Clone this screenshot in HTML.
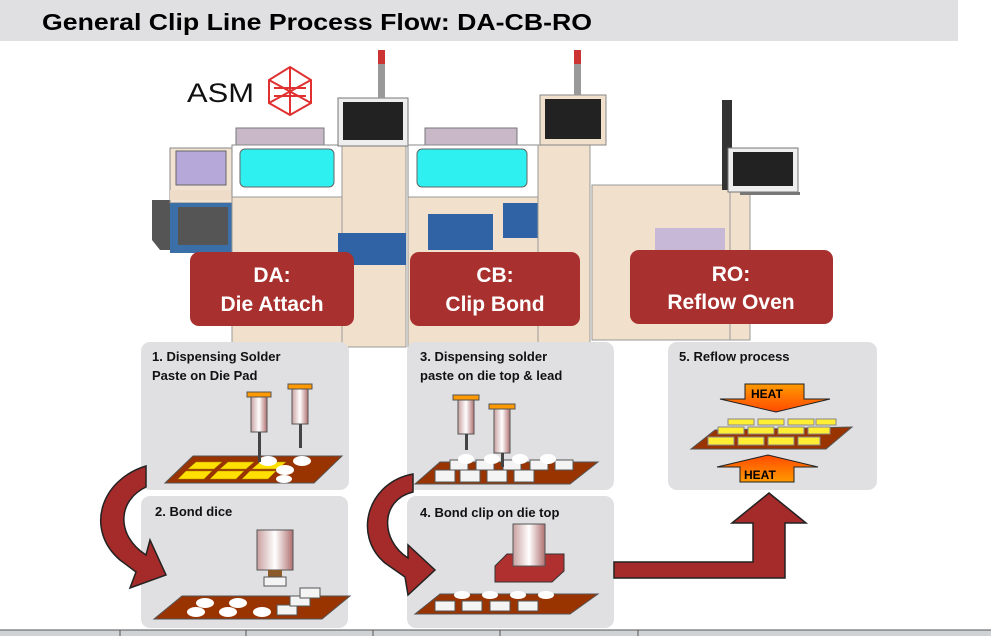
<!DOCTYPE html>
<html><head><meta charset="utf-8"><style>
html,body{margin:0;padding:0;background:#fff;width:991px;height:636px;overflow:hidden}
svg{display:block;font-family:"Liberation Sans",sans-serif}
</style></head><body>
<svg width="991" height="636" viewBox="0 0 991 636" xmlns="http://www.w3.org/2000/svg">
<defs>
<linearGradient id="syr" x1="0" x2="1"><stop offset="0" stop-color="#c9a0a0"/><stop offset=".5" stop-color="#fff"/><stop offset="1" stop-color="#b07070"/></linearGradient>
<linearGradient id="heat" x1="0" y1="0" x2="0" y2="1"><stop offset="0" stop-color="#ff9a00"/><stop offset="1" stop-color="#ff4a00"/></linearGradient>
<linearGradient id="heat2" x1="0" y1="1" x2="0" y2="0"><stop offset="0" stop-color="#ff9a00"/><stop offset="1" stop-color="#ff4a00"/></linearGradient>
</defs>
<rect x="0" y="0" width="958" height="41" fill="#e0e0e2"/>
<text x="42" y="30" font-size="23" font-weight="bold" textLength="550" lengthAdjust="spacingAndGlyphs">General Clip Line Process Flow: DA-CB-RO</text>

<text x="187" y="102" font-size="27" fill="#111" textLength="67" lengthAdjust="spacingAndGlyphs">ASM</text>
<g fill="none" stroke="#e03030" stroke-width="2">
<polygon points="290,67 311,80 311,103 290,115 269,103 269,80"/>
<path d="M269,80 L311,103 M311,80 L269,103 M290,67 L290,115 M274,88 L306,88 M274,96 L306,96"/>
</g>

<!-- DA -->
<polygon points="152,200 170,200 170,250 160,250 152,240" fill="#555"/>
<rect x="170" y="148" width="62" height="55" fill="#f1e2d2" stroke="#888"/>
<rect x="176" y="151" width="50" height="34" fill="#b6a8d8" stroke="#666"/>
<rect x="170" y="190" width="62" height="10" fill="#efdcc8"/>
<rect x="170" y="203" width="62" height="50" fill="#3a6fa8"/>
<rect x="178" y="207" width="50" height="38" fill="#555"/>
<rect x="236" y="128" width="88" height="20" fill="#c8b8c8" stroke="#777"/>
<rect x="232" y="145" width="110" height="52" fill="#fff" stroke="#888"/>
<rect x="240" y="149" width="94" height="38" rx="5" fill="#2ff0f0" stroke="#666"/>
<rect x="232" y="197" width="110" height="150" fill="#f1e0cc" stroke="#999"/>
<rect x="342" y="146" width="64" height="201" fill="#f1e0cc" stroke="#999"/>
<rect x="338" y="98" width="70" height="48" fill="#eee" stroke="#777"/>
<rect x="343" y="102" width="60" height="38" fill="#222"/>
<rect x="378" y="50" width="7" height="48" fill="#999"/>
<rect x="378" y="50" width="7" height="14" fill="#c33"/>
<rect x="338" y="233" width="68" height="32" fill="#2f63a6"/>
<!-- CB -->
<rect x="425" y="128" width="92" height="20" fill="#c8b8c8" stroke="#777"/>
<rect x="408" y="145" width="130" height="52" fill="#fff" stroke="#888"/>
<rect x="417" y="149" width="110" height="38" rx="5" fill="#2ff0f0" stroke="#666"/>
<rect x="408" y="197" width="130" height="150" fill="#f1e0cc" stroke="#999"/>
<rect x="428" y="214" width="65" height="36" fill="#2f63a6"/>
<rect x="503" y="203" width="75" height="35" fill="#2f63a6"/>
<rect x="538" y="145" width="52" height="200" fill="#f1e0cc" stroke="#999"/>
<rect x="540" y="95" width="66" height="50" fill="#f1e0cc" stroke="#888"/>
<rect x="545" y="99" width="56" height="40" fill="#222"/>
<rect x="574" y="50" width="7" height="45" fill="#999"/>
<rect x="574" y="50" width="7" height="14" fill="#c33"/>
<!-- RO -->
<rect x="592" y="185" width="140" height="155" fill="#f1e0cc" stroke="#999"/>
<rect x="730" y="190" width="20" height="150" fill="#f1e0cc" stroke="#999"/>
<rect x="655" y="228" width="70" height="25" fill="#c8b8d8"/>
<rect x="722" y="100" width="10" height="90" fill="#333"/>
<rect x="728" y="148" width="70" height="44" fill="#eee" stroke="#777"/>
<rect x="733" y="152" width="60" height="34" fill="#222"/>
<rect x="740" y="192" width="60" height="3" fill="#777"/>

<g fill="#a8302e">
<rect x="190" y="252" width="164" height="74" rx="9"/>
<rect x="410" y="252" width="170" height="74" rx="9"/>
<rect x="630" y="250" width="203" height="74" rx="9"/>
</g>
<g fill="#fff" font-size="21" font-weight="bold" text-anchor="middle">
<text x="272" y="282">DA:</text><text x="272" y="311">Die Attach</text>
<text x="495" y="282">CB:</text><text x="495" y="311">Clip Bond</text>
<text x="731" y="281">RO:</text><text x="731" y="309">Reflow Oven</text>
</g>

<g fill="#e0e0e2">
<rect x="141" y="342" width="208" height="148" rx="9"/>
<rect x="141" y="496" width="207" height="132" rx="9"/>
<rect x="407" y="342" width="207" height="148" rx="9"/>
<rect x="407" y="496" width="207" height="132" rx="9"/>
<rect x="668" y="342" width="209" height="148" rx="9"/>
</g>
<g font-size="13" font-weight="bold" fill="#111">
<text x="152" y="361">1. Dispensing Solder</text>
<text x="152" y="380">Paste on Die Pad</text>
<text x="155" y="516">2. Bond dice</text>
<text x="420" y="361">3. Dispensing solder</text>
<text x="420" y="380">paste on die top &amp;  lead</text>
<text x="420" y="517">4. Bond clip on die top</text>
<text x="679" y="361">5. Reflow process</text>
</g>

<polygon points="165,483 193,456 342,456 314,483" fill="#993300" stroke="#555"/>
<g fill="#ffe000" stroke="#aa8800" stroke-width=".5">
<polygon points="178,479 186,471 212,471 204,479"/><polygon points="210,479 218,471 244,471 236,479"/><polygon points="242,479 250,471 276,471 268,479"/>
<polygon points="188,469 196,462 222,462 214,469"/><polygon points="220,469 228,462 254,462 246,469"/><polygon points="252,469 260,462 286,462 278,469"/>
</g>
<g fill="#fff"><ellipse cx="268" cy="461" rx="9" ry="5"/><ellipse cx="285" cy="470" rx="9" ry="5"/><ellipse cx="302" cy="461" rx="9" ry="5"/><ellipse cx="284" cy="479" rx="8" ry="4"/></g>
<rect x="251" y="396" width="16" height="36" fill="url(#syr)" stroke="#555"/><rect x="247" y="392" width="24" height="5" fill="#ff9900" stroke="#555"/><rect x="258" y="432" width="3" height="30" fill="#444"/>
<rect x="292" y="388" width="16" height="36" fill="url(#syr)" stroke="#555"/><rect x="288" y="384" width="24" height="5" fill="#ff9900" stroke="#555"/><rect x="299" y="424" width="3" height="24" fill="#444"/>

<polygon points="154,619 182,596 350,596 322,619" fill="#993300" stroke="#555"/>
<g fill="#fff"><ellipse cx="205" cy="603" rx="9" ry="5"/><ellipse cx="238" cy="603" rx="9" ry="5"/><ellipse cx="196" cy="612" rx="9" ry="5"/><ellipse cx="228" cy="612" rx="9" ry="5"/><ellipse cx="262" cy="612" rx="9" ry="5"/></g>
<g fill="#f4f4f4" stroke="#555"><rect x="277" y="605" width="20" height="10"/><rect x="290" y="596" width="20" height="10"/><rect x="300" y="588" width="20" height="10"/></g>
<rect x="257" y="530" width="36" height="40" fill="url(#syr)" stroke="#555"/><rect x="268" y="570" width="14" height="8" fill="#8b5a2b"/><rect x="264" y="577" width="22" height="9" fill="#f4f4f4" stroke="#555"/>

<polygon points="415,484 440,462 598,462 570,484" fill="#993300" stroke="#555"/>
<g fill="#f4f4f4" stroke="#555">
<rect x="435" y="470" width="20" height="12"/><rect x="460" y="470" width="20" height="12"/><rect x="487" y="470" width="20" height="12"/><rect x="514" y="470" width="20" height="12"/>
<rect x="450" y="460" width="18" height="10"/><rect x="476" y="460" width="18" height="10"/><rect x="503" y="460" width="18" height="10"/><rect x="530" y="460" width="18" height="10"/><rect x="555" y="460" width="18" height="10"/>
</g>
<g fill="#fff"><ellipse cx="466" cy="459" rx="8" ry="5"/><ellipse cx="492" cy="459" rx="8" ry="5"/><ellipse cx="520" cy="459" rx="8" ry="5"/><ellipse cx="548" cy="459" rx="8" ry="5"/></g>
<rect x="458" y="399" width="16" height="35" fill="url(#syr)" stroke="#555"/><rect x="453" y="395" width="26" height="5" fill="#ff9900" stroke="#555"/><rect x="465" y="434" width="3" height="16" fill="#444"/>
<rect x="494" y="409" width="16" height="44" fill="url(#syr)" stroke="#555"/><rect x="489" y="404" width="26" height="5" fill="#ff9900" stroke="#555"/><rect x="501" y="453" width="3" height="14" fill="#444"/>

<polygon points="415,614 440,594 598,594 570,614" fill="#993300" stroke="#555"/>
<g fill="#f4f4f4" stroke="#555"><rect x="435" y="601" width="20" height="10"/><rect x="462" y="601" width="20" height="10"/><rect x="490" y="601" width="20" height="10"/><rect x="518" y="601" width="20" height="10"/></g>
<g fill="#fff"><ellipse cx="462" cy="595" rx="8" ry="4"/><ellipse cx="490" cy="595" rx="8" ry="4"/><ellipse cx="518" cy="595" rx="8" ry="4"/><ellipse cx="546" cy="595" rx="8" ry="4"/></g>
<polygon points="495,566 507,554 564,554 564,571 552,582 495,582" fill="#b03030" stroke="#333"/>
<rect x="513" y="524" width="32" height="42" fill="url(#syr)" stroke="#555"/>

<polygon points="691,449 715,430 852,427 826,449" fill="#993300" stroke="#555"/>
<g fill="#ffee33" stroke="#888">
<rect x="708" y="437" width="26" height="8"/><rect x="738" y="437" width="26" height="8"/><rect x="768" y="437" width="26" height="8"/><rect x="798" y="437" width="22" height="8"/>
<rect x="718" y="427" width="26" height="7"/><rect x="748" y="427" width="26" height="7"/><rect x="778" y="427" width="26" height="7"/><rect x="808" y="427" width="22" height="7"/>
<rect x="728" y="419" width="26" height="6"/><rect x="758" y="419" width="26" height="6"/><rect x="788" y="419" width="26" height="6"/><rect x="816" y="419" width="20" height="6"/>
</g>
<polygon points="745,384 804,384 804,399 830,399 776,412 720,399 745,399" fill="url(#heat)" stroke="#222"/>
<text x="751" y="398" font-size="12" font-weight="bold">HEAT</text>
<polygon points="740,482 794,482 794,467 818,467 768,455 717,467 740,467" fill="url(#heat2)" stroke="#222"/>
<text x="744" y="479" font-size="12" font-weight="bold">HEAT</text>

<path d="M146,466 C100,480 85,530 120,560 L136,572 L130,588 L166,575 L150,540 L146,555 C115,535 118,500 146,487 Z" fill="#a52a2a" stroke="#222" stroke-width="1.5"/>
<path d="M413,474 C368,482 352,535 385,563 L405,577 L408,595 L435,570 L408,545 L408,558 C380,540 380,500 413,492 Z" fill="#a52a2a" stroke="#222" stroke-width="1.5"/>
<path d="M614,562 L753,562 L753,523 L732,523 L769,493 L806,523 L785,523 L785,578 L614,578 Z" fill="#a52a2a" stroke="#222" stroke-width="1.5"/>

<rect x="0" y="630" width="991" height="6" fill="#cfd3d6"/>
<g stroke="#555"><line x1="0" y1="630" x2="991" y2="630"/><line x1="120" y1="630" x2="120" y2="636"/><line x1="246" y1="630" x2="246" y2="636"/><line x1="373" y1="630" x2="373" y2="636"/><line x1="500" y1="630" x2="500" y2="636"/><line x1="638" y1="630" x2="638" y2="636"/></g>
</svg>
</body></html>
